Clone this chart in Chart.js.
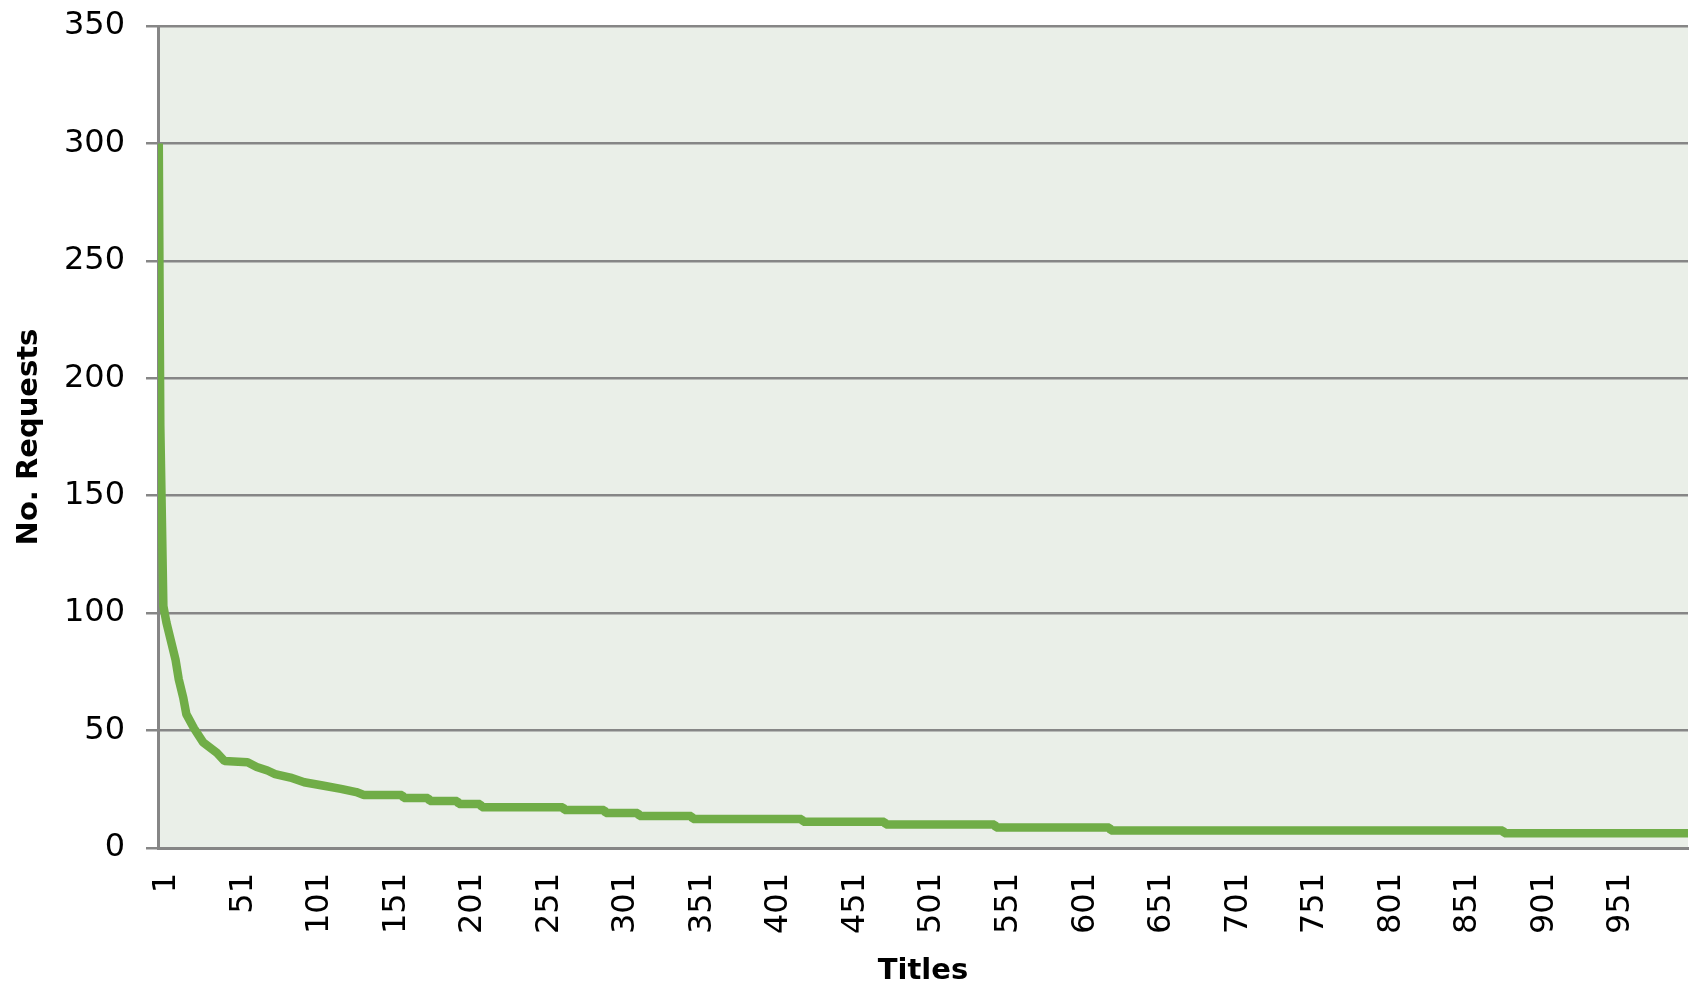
<!DOCTYPE html>
<html>
<head>
<meta charset="utf-8">
<title>No. Requests per title</title>
<script src="https://cdn.jsdelivr.net/npm/chart.js@4.4.1/dist/chart.umd.min.js"></script>
<style>
  html, body { margin: 0; padding: 0; background: #ffffff; }
  canvas { display: block; }
</style>
</head>
<body>
<canvas id="requestsChart" width="1694" height="989"></canvas>
<script>
// =====================
// Dados
// =====================
// rank do título (eixo x) nos pontos onde a curva muda
const titleRank = [1, 2, 4, 6, 9, 12, 14, 17, 19, 24, 30, 39, 44, 59, 65, 72, 77, 87, 96, 108, 120, 130, 135,
  160, 161, 177, 178, 196, 197, 211, 212, 265, 266, 292, 293, 314, 315, 349, 350,
  421, 422, 475, 476, 547, 548, 622, 623, 879, 880, 1000];
// nº de pedidos nesses pontos
const requests = [300, 180, 103, 96, 88, 80, 72, 64, 57, 51, 45, 40.5, 37, 36.5, 34.5, 33, 31.5, 30, 28, 26.6, 25.2, 23.8, 22.6,
  22.6, 21.3, 21.3, 20.0, 20.0, 18.7, 18.7, 17.4, 17.4, 16.2, 16.2, 14.9, 14.9, 13.6, 13.6, 12.3,
  12.3, 11.2, 11.2, 10.0, 10.0, 8.7, 8.7, 7.5, 7.5, 6.3, 6.3];
const xTicks = [1, 51, 101, 151, 201, 251, 301, 351, 401, 451, 501, 551, 601, 651, 701, 751, 801, 851, 901, 951];
const yTicks = [0, 50, 100, 150, 200, 250, 300, 350];

const gridGray = '#868686';
const plotBg = '#eaefe8';
const lineGreen = '#70ad47';
const tickFont = { family: 'DejaVu Sans', size: 32 };
const titleFont = { family: 'DejaVu Sans', size: 29, weight: 'bold' };

// fundo da área do gráfico
const plotBackground = {
  id: 'plotBackground',
  beforeDraw(chart) {
    const { ctx, chartArea: a } = chart;
    ctx.save();
    ctx.fillStyle = plotBg;
    ctx.fillRect(a.left, a.top, a.right - a.left, a.bottom - a.top);
    ctx.restore();
  }
};

const ctx = document.getElementById('requestsChart').getContext('2d');

new Chart(ctx, {
  type: 'line',
  data: {
    datasets: [{
      label: 'No. Requests',
      data: titleRank.map((x, i) => ({ x, y: requests[i] })),
      borderColor: lineGreen,
      borderWidth: 8.5,
      borderJoinStyle: 'bevel',
      pointRadius: 0,
      tension: 0,
      fill: false
    }]
  },
  options: {
    responsive: false,
    devicePixelRatio: 1,
    animation: false,
    layout: { padding: { top: 26, right: 6, bottom: 0, left: 0 } },
    plugins: {
      legend: { display: false },
      tooltip: { enabled: false }
    },
    scales: {
      x: {
        type: 'linear',
        min: 0.5,
        max: 1000,
        afterBuildTicks: (scale) => { scale.ticks = xTicks.map(v => ({ value: v })); },
        afterFit: (scale) => {
          scale.height = 141;
          scale.paddingLeft = 0;
          scale.paddingRight = 0;
        },
        grid: { display: false, drawTicks: false },
        border: { display: true, color: gridGray, width: 3 },
        ticks: {
          autoSkip: false,
          minRotation: 90,
          maxRotation: 90,
          padding: 25,
          labelOffset: 8,
          color: '#000',
          font: tickFont
        },
        title: {
          display: true,
          text: 'Titles',
          color: '#000',
          font: titleFont,
          padding: { top: 0, bottom: 0 }
        }
      },
      y: {
        min: 0,
        max: 350,
        afterBuildTicks: (scale) => { scale.ticks = yTicks.map(v => ({ value: v })); },
        afterFit: (scale) => {
          scale.width = 158;
          scale.paddingTop = 0;
          scale.paddingBottom = 0;
        },
        grid: { color: gridGray, lineWidth: 2.5, drawTicks: true, tickLength: 12 },
        border: { display: true, color: gridGray, width: 3 },
        ticks: { padding: 21, color: '#000', font: tickFont },
        title: {
          display: true,
          text: 'No. Requests',
          color: '#000',
          font: titleFont,
          padding: { top: 12, bottom: 0 }
        }
      }
    }
  },
  plugins: [plotBackground]
});
</script>
</body>
</html>
